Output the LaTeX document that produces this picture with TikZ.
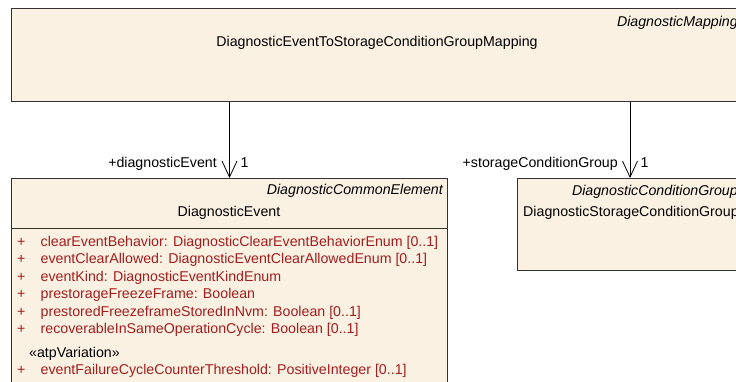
\documentclass[tikz,border=0pt]{standalone}
\usepackage{fontspec}
\setmainfont{Liberation Sans}
\usetikzlibrary{arrows.meta}
\definecolor{boxfill}{RGB}{251,241,227}
\definecolor{attrred}{RGB}{160,30,30}
\definecolor{boxline}{RGB}{50,50,50}
\begin{document}
\begin{tikzpicture}[x=1pt,y=-1pt,
  font=\fontsize{14.2}{17}\selectfont,
  box/.style={draw=boxline, fill=boxfill, line width=1pt, anchor=north west, inner sep=0pt},
  txt/.style={inner sep=0pt, anchor=base},
  txtl/.style={inner sep=0pt, anchor=base west},
  txtr/.style={inner sep=0pt, anchor=base east},
  attr/.style={txtl, text=attrred},
  assoc/.style={draw=black, line width=0.8pt, -{Straight Barb[length=16pt,width=15pt,line width=0.8pt]}}]
\useasboundingbox (0,0) rectangle (736,382);
\clip (0,0) rectangle (736,382);

% boxes
\node[box, minimum width=733pt, minimum height=93pt] (top) at (11,8) {};
\node[box, minimum width=436pt, minimum height=260pt] (event) at (11,178) {};
\node[box, minimum width=227pt, minimum height=92pt] (stor) at (517,178) {};
\draw[boxline, line width=1pt] ([yshift=-50pt]event.north west) -- ([yshift=-50pt]event.north east);

% top box texts
\node[txtr] (topst) at (738,27) {\itshape DiagnosticMapping};
\node[txt] (topname) at (377,47) {DiagnosticEventToStorageConditionGroupMapping};

% event box texts
\node[txtr] (evst) at (443,195) {\itshape DiagnosticCommonElement};
\node[txt] (evname) at (229,216) {DiagnosticEvent};
\foreach \i/\t in {0/{clearEventBehavior: DiagnosticClearEventBehaviorEnum [0..1]},
                   1/{eventClearAllowed: DiagnosticEventClearAllowedEnum [0..1]},
                   2/{eventKind: DiagnosticEventKindEnum},
                   3/{prestorageFreezeFrame: Boolean},
                   4/{prestoredFreezeframeStoredInNvm: Boolean [0..1]},
                   5/{recoverableInSameOperationCycle: Boolean [0..1]}}{
  \node[attr] (p\i) at (17,246+17.5*\i) {+};
  \node[attr] (a\i) at (40.5,246+17.5*\i) {\t};
}
\node[txtl] (stereo) at (29,357) {«atpVariation»};
\node[attr] (p6) at (17,374.5) {+};
\node[attr] (a6) at (40.5,374.5) {eventFailureCycleCounterThreshold: PositiveInteger [0..1]};

% storage box texts
\node[txtr] (stst) at (738,196) {\itshape DiagnosticConditionGroup};
\node[txtl] (stname) at (523,217) {DiagnosticStorageConditionGroup};

% associations
\coordinate (c1) at (229.5,0);
\coordinate (c2) at (630,0);
\draw[assoc] (top.south -| c1) -- (event.north -| c1);
\draw[assoc] (top.south -| c2) -- (stor.north -| c2);
\node[txtr] (r1) at (217,168) {+diagnosticEvent};
\node[txtl] (m1) at (240.5,168) {1};
\node[txtr] (r2) at (618,168) {+storageConditionGroup};
\node[txtl] (m2) at (640.5,168) {1};
\end{tikzpicture}
\end{document}
